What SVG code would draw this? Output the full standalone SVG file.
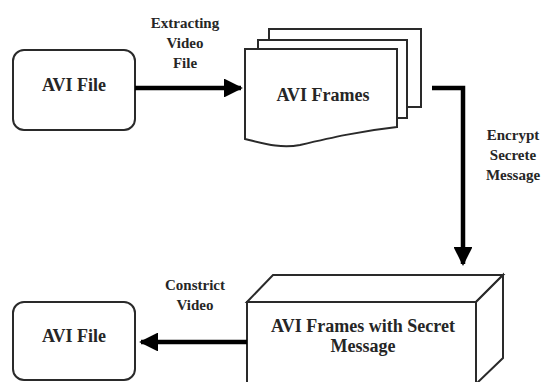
<svg xmlns="http://www.w3.org/2000/svg" width="547" height="382" viewBox="0 0 547 382">
  <style>
    .shape { fill: #ffffff; stroke: #2a2a2a; stroke-width: 2; stroke-linejoin: miter; }
    .label { font-family: "Liberation Serif", "Times New Roman", serif; font-weight: bold; fill: #262626; text-anchor: middle; }
    .node { font-size: 18px; }
    .edge { font-size: 15px; }
    .wire { fill: none; stroke: #000000; stroke-width: 4.5; }
  </style>
  <defs>
    <marker id="head" viewBox="0 0 10 10" refX="9" refY="5" markerWidth="4.5" markerHeight="4.2" markerUnits="strokeWidth" orient="auto">
      <path d="M0,0 L10,5 L0,10 Z" fill="#000000"/>
    </marker>
  </defs>
  <rect width="547" height="382" fill="#ffffff"/>

  <!-- source video -->
  <g id="avi-file-in">
    <rect class="shape" x="13" y="50" width="122" height="80" rx="11"/>
    <text class="label node" x="74" y="91">AVI File</text>
  </g>

  <!-- extracted frames (stacked documents) -->
  <g id="avi-frames">
    <rect class="shape" x="269" y="29" width="152" height="78"/>
    <rect class="shape" x="258" y="40" width="149" height="78"/>
    <path class="shape" d="M245,49 H397 V127 C360,131 330,138 300,145 C280,149 262,143 245,139 Z"/>
    <text class="label node" x="323" y="101">AVI Frames</text>
  </g>

  <!-- frames carrying the hidden message (3D block) -->
  <g id="avi-frames-secret">
    <path class="shape" d="M247,302 L273,275 H503 L476,302 Z"/>
    <path class="shape" d="M476,302 L503,275 V358 L476,384 Z"/>
    <rect class="shape" x="247" y="302" width="229" height="84"/>
    <text class="label node" x="363" y="332">AVI Frames with Secret</text>
    <text class="label node" x="363" y="352">Message</text>
  </g>

  <!-- rebuilt video -->
  <g id="avi-file-out">
    <rect class="shape" x="13" y="302" width="122" height="78" rx="11"/>
    <text class="label node" x="74" y="342">AVI File</text>
  </g>

  <g id="connectors">
    <path class="wire" d="M135,88 H241" marker-end="url(#head)"/>
    <path class="wire" d="M432,88 H463 V264" marker-end="url(#head)"/>
    <path class="wire" d="M247,342 H141" marker-end="url(#head)"/>

    <text class="label edge" x="185" y="28">Extracting</text>
    <text class="label edge" x="185" y="48">Video</text>
    <text class="label edge" x="185" y="68">File</text>

    <text class="label edge" x="513" y="140">Encrypt</text>
    <text class="label edge" x="513" y="160">Secrete</text>
    <text class="label edge" x="513" y="180">Message</text>

    <text class="label edge" x="195" y="290">Constrict</text>
    <text class="label edge" x="195" y="310">Video</text>
  </g>
</svg>
